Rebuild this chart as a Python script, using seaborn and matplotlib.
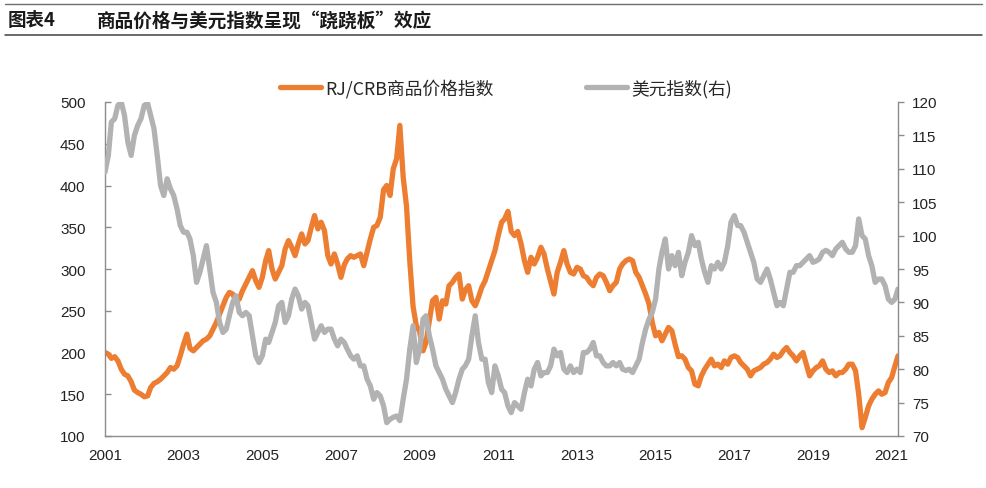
import matplotlib
matplotlib.use("Agg")
import matplotlib.pyplot as plt
import matplotlib.dates as mdates
from matplotlib.lines import Line2D
import seaborn as sns
import pandas as pd

# ---------------- data (monthly) ----------------
crb_values = [
    # 2001
    200, 198, 193, 195, 190, 180, 174, 172, 165, 155, 152, 150,
    # 2002
    147, 148, 158, 163, 165, 168, 172, 176, 182, 180, 184, 196,
    # 2003
    210, 222, 205, 202, 206, 210, 214, 216, 220, 228, 236, 246,
    # 2004
    256, 266, 272, 270, 262, 264, 274, 282, 290, 298, 286, 278,
    # 2005
    290, 310, 322, 300, 288, 296, 304, 324, 334, 326, 316, 330,
    # 2006
    342, 330, 334, 350, 364, 348, 356, 346, 316, 306, 318, 306,
    # 2007
    290, 305, 312, 316, 314, 316, 318, 304, 320, 336, 350, 352,
    # 2008
    362, 395, 400, 388, 420, 432, 472, 410, 375, 310, 255, 232,
    # 2009
    225, 202, 212, 238, 262, 266, 240, 262, 258, 280, 284, 290,
    # 2010
    294, 264, 275, 280, 262, 256, 266, 278, 286, 298, 310, 322,
    # 2011
    340, 356, 360, 369, 345, 340, 345, 330, 310, 296, 314, 306,
    # 2012
    314, 326, 318, 300, 285, 270, 296, 308, 322, 306, 296, 294,
    # 2013
    302, 300, 292, 290, 284, 280, 290, 294, 292, 284, 274, 280,
    # 2014
    284, 300, 306, 310, 312, 310, 296, 290, 280, 270, 258, 236,
    # 2015
    220, 224, 214, 222, 230, 226, 210, 195, 196, 192, 182, 178,
    # 2016
    162, 160, 172, 180, 186, 192, 184, 186, 182, 190, 186, 194,
    # 2017
    196, 194, 188, 184, 180, 172, 178, 180, 182, 186, 188, 192,
    # 2018
    198, 194, 196, 202, 206, 200, 196, 190, 196, 200, 186, 172,
    # 2019
    178, 182, 184, 190, 180, 176, 178, 172, 176, 176, 180, 186,
    # 2020
    186, 178, 150, 110, 122, 136, 144, 150, 154, 150, 152, 164,
    # 2021
    170, 184, 196,
]

usd_values = [
    # 2001
    109.5, 112.0, 117.0, 117.5, 119.5, 120.0, 118.0, 114.0, 112.0, 115.0, 116.5, 117.5,
    # 2002
    119.5, 119.8, 118.0, 116.0, 112.0, 107.5, 106.0, 108.5, 107.0, 106.0, 104.0, 101.5,
    # 2003
    100.5, 100.5, 99.5, 97.0, 93.0, 94.5, 96.5, 98.5, 95.0, 91.5, 90.0, 87.0,
    # 2004
    85.5, 86.0, 88.0, 90.0, 91.0, 88.5, 88.0, 88.5, 88.0, 85.0, 82.0, 81.0,
    # 2005
    82.0, 84.5, 84.0, 85.5, 87.0, 89.5, 90.0, 87.0, 88.0, 90.5, 92.0, 91.0,
    # 2006
    89.0, 90.0, 89.5, 87.0, 84.5, 85.5, 86.5, 85.5, 86.0, 86.0, 84.5, 83.5,
    # 2007
    84.5, 84.0, 83.0, 82.0, 81.5, 82.0, 80.5, 80.5, 78.5, 77.5, 75.5, 76.5,
    # 2008
    76.0, 74.5, 72.0, 72.5, 72.8, 73.0, 72.3, 75.5, 78.5, 83.0, 86.5, 81.0,
    # 2009
    83.0, 87.5, 88.0, 85.0, 83.0, 80.5, 79.5, 78.5, 77.0, 76.0, 75.0, 76.5,
    # 2010
    78.5, 80.0, 80.5, 81.5, 85.0, 88.0, 84.0, 81.5, 81.5, 78.0, 76.5, 80.5,
    # 2011
    79.0, 77.0, 76.5, 74.5, 73.5, 75.0, 74.5, 74.0, 76.5, 78.5, 77.5, 80.0,
    # 2012
    81.0, 79.0, 79.5, 79.5, 80.5, 83.0, 82.0, 82.5, 80.0, 79.5, 80.5, 79.5,
    # 2013
    80.0, 79.5, 82.5, 82.5, 83.0, 84.0, 82.0, 82.0, 81.0, 80.5, 80.5, 81.0,
    # 2014
    80.5, 81.0, 80.0, 79.8, 80.0, 79.5, 80.5, 81.5, 84.0, 86.0, 87.5, 88.5,
    # 2015
    90.5, 95.0, 97.5, 99.5, 95.0, 97.0, 95.5, 97.5, 94.0, 96.0, 97.5, 100.0,
    # 2016
    98.5, 99.0, 96.5, 94.5, 93.0, 95.5, 95.0, 96.0, 95.0, 96.0, 98.5, 102.0,
    # 2017
    103.0, 101.5, 101.5, 100.5, 99.0, 97.5, 96.0, 93.5, 93.0, 94.0, 95.0, 93.5,
    # 2018
    91.5, 89.5, 90.0, 89.5, 92.0, 94.5, 94.5, 95.5, 95.5, 96.0, 96.5, 97.0,
    # 2019
    96.0, 96.2, 96.5, 97.5, 97.8, 97.5, 97.0, 98.0, 98.5, 99.0, 98.0, 97.5,
    # 2020
    97.5, 98.5, 102.5, 100.0, 99.5, 97.0, 95.5, 93.0, 93.5, 93.5, 92.5, 90.5,
    # 2021
    90.0, 90.5, 92.0,
]

dates = pd.date_range("2001-01-01", periods=len(crb_values), freq="MS")
series_names = ["RJ/CRB商品价格指数", "美元指数(右)"]
left_ticks = [100, 150, 200, 250, 300, 350, 400, 450, 500]
right_ticks = [70, 75, 80, 85, 90, 95, 100, 105, 110, 115, 120]
year_ticks = list(range(2001, 2022, 2))
title_num = "图表4"
title_text = "商品价格与美元指数呈现“跷跷板”效应"

df = pd.DataFrame({"date": dates, "crb": crb_values, "usd": usd_values})

# ---------------- style ----------------
sns.set_style("white")
plt.rcParams["font.family"] = ["Noto Sans CJK SC", "DejaVu Sans"]

ORANGE = "#ED7D31"
GREY = "#B2B2B2"
AXIS = "#8C8C8C"
CJK = ["Noto Sans CJK SC", "DejaVu Sans"]
NUM = ["Liberation Sans", "DejaVu Sans"]
LW = 3.8

fig = plt.figure(figsize=(9.87, 4.89), dpi=100)
ax = fig.add_axes([105 / 987, 1 - 437 / 489, (898 - 105) / 987, (437 - 103) / 489])
ax2 = ax.twinx()

sns.lineplot(data=df, x="date", y="crb", ax=ax, color=ORANGE, linewidth=LW,
             legend=False, solid_joinstyle="round")
sns.lineplot(data=df, x="date", y="usd", ax=ax2, color=GREY, linewidth=LW,
             legend=False, solid_joinstyle="round")

ax.set_xlim(dates[0], dates[-1])
ax.set_ylim(100, 500)
ax2.set_ylim(70, 120)
ax.set_yticks(left_ticks)
ax2.set_yticks(right_ticks)
ax.set_xticks([pd.Timestamp(f"{y}-01-01") for y in year_ticks])
ax.xaxis.set_major_formatter(mdates.DateFormatter("%Y"))

for a in (ax, ax2):
    a.set_xlabel("")
    a.set_ylabel("")
    a.spines["top"].set_visible(False)
    for s in ("left", "right", "bottom"):
        a.spines[s].set_color(AXIS)
        a.spines[s].set_linewidth(1.0)

ax.spines["right"].set_visible(False)
ax2.spines["left"].set_visible(False)
ax2.spines["bottom"].set_visible(False)

ax.tick_params(axis="x", direction="in", length=4, width=1, color=AXIS,
               pad=9, labelsize=11, labelcolor="#222222")
ax.tick_params(axis="y", direction="in", length=4, width=1, color=AXIS,
               pad=14, labelsize=11, labelcolor="#222222", left=True)
ax2.tick_params(axis="y", direction="out", length=4, width=1, color=AXIS,
                pad=6, labelsize=11, labelcolor="#222222", right=True)
for lab in ax.get_xticklabels() + ax.get_yticklabels() + ax2.get_yticklabels():
    lab.set_family(NUM)

# ---------------- legend ----------------
handles = [Line2D([], [], color=ORANGE, linewidth=LW),
           Line2D([], [], color=GREY, linewidth=LW)]
fig.legend(handles, series_names, loc="center", bbox_to_anchor=(506 / 987, 1 - 89 / 489),
           ncol=2, frameon=False, prop={"family": CJK, "size": 12.8},
           handlelength=2.3, handletextpad=0.25, columnspacing=5.2)

# ---------------- title & rules ----------------
fig.text(8 / 987, 1 - 21 / 489, title_num, ha="left", va="center",
         fontsize=13.3, fontweight="bold", family=CJK, color="#1a1a1a")
fig.text(97 / 987, 1 - 21 / 489, title_text, ha="left", va="center",
         fontsize=13.4, fontweight="bold", family=CJK, color="#1a1a1a")
fig.add_artist(Line2D([5 / 987, 982 / 987], [1 - 4.5 / 489, 1 - 4.5 / 489],
                      color="#6e6e6e", linewidth=1.0, transform=fig.transFigure))
fig.add_artist(Line2D([5 / 987, 982 / 987], [1 - 36 / 489, 1 - 36 / 489],
                      color="#404040", linewidth=1.1, transform=fig.transFigure))

fig.savefig("out.png", dpi=100, facecolor="white")
